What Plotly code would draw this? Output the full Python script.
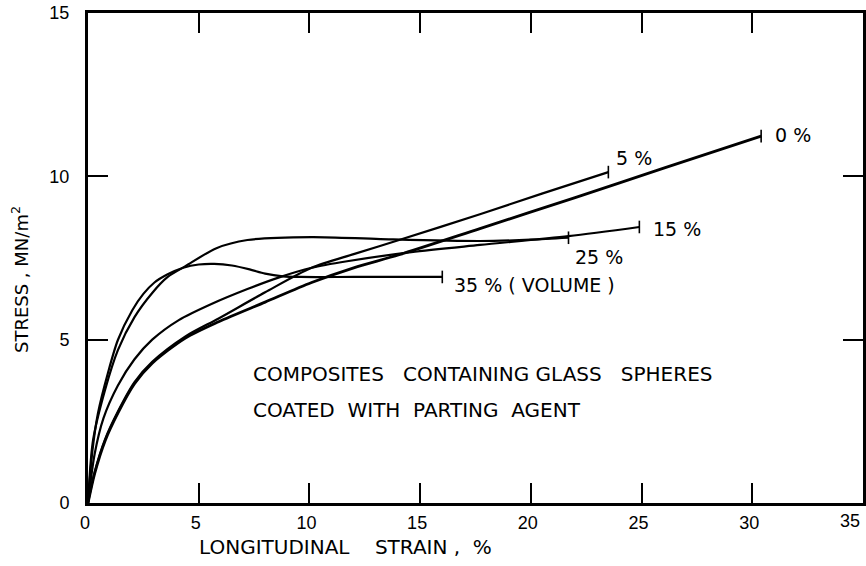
import plotly.graph_objects as go

# ---- data ----
strain_0 = [0, 0.3, 0.77, 1.35, 2.1, 2.9, 4.4, 5.9, 8.0, 10.1, 12.0, 14.05, 17.7, 22.0, 26.0, 30.4]
stress_0 = [0, 0.9, 1.9, 2.75, 3.65, 4.28, 5.05, 5.55, 6.15, 6.75, 7.2, 7.6, 8.4, 9.35, 10.25, 11.23]

strain_5 = [0, 0.3, 0.77, 1.35, 2.1, 2.9, 4.4, 5.9, 8.0, 10.1, 12.0, 14.05, 17.7, 20.5, 23.5]
stress_5 = [0, 0.95, 1.95, 2.8, 3.7, 4.32, 5.1, 5.65, 6.45, 7.2, 7.62, 8.05, 8.84, 9.47, 10.13]

strain_15 = [0, 0.3, 0.7, 1.35, 2.1, 2.9, 4.1, 5.6, 7.2, 8.6, 10.1, 11.7, 14.6, 17.7, 21.7, 24.9]
stress_15 = [0, 1.5, 2.6, 3.6, 4.4, 5.0, 5.6, 6.1, 6.55, 6.9, 7.2, 7.4, 7.68, 7.9, 8.17, 8.45]

strain_25 = [0, 0.23, 0.77, 1.35, 2.1, 2.9, 3.6, 4.4, 5.8, 7.2, 10.1, 13.2, 17.7, 20.0, 21.7]
stress_25 = [0, 1.93, 3.46, 4.68, 5.69, 6.43, 6.92, 7.25, 7.8, 8.05, 8.14, 8.08, 8.02, 8.06, 8.12]

strain_35 = [0, 0.2, 0.45, 0.9, 1.35, 2.0, 2.5, 3.0, 3.6, 4.3, 5.0, 5.7, 6.5, 7.3, 8.0, 8.8, 9.6, 12.0, 16.0]
stress_35 = [0, 1.6, 2.75, 3.98, 4.99, 5.9, 6.4, 6.75, 7.0, 7.2, 7.3, 7.32, 7.27, 7.15, 7.02, 6.94, 6.92, 6.92, 6.92]

series_labels = ["0 %", "5 %", "15 %", "25 %", "35 % ( VOLUME )"]
x_ticks = [0, 5, 10, 15, 20, 25, 30, 35]
y_ticks = [0, 5, 10, 15]

NB = "\u00a0"
note_line1 = f"COMPOSITES{NB*3}CONTAINING GLASS{NB*3}SPHERES"
note_line2 = f"COATED{NB*2}WITH{NB*2}PARTING{NB*2}AGENT"
x_title = f"LONGITUDINAL{NB*4}STRAIN{NB}, {NB}%"
y_title = "STRESS , MN/m<sup>2</sup>"

# (line width, label x-shift px, label y-shift px)
styles = [(2.8, 12, 1), (2.2, 6, 14), (2.2, 12, -2), (2.2, 4, -19), (2.2, 10, -8)]
curves = [(strain_0, stress_0), (strain_5, stress_5), (strain_15, stress_15),
          (strain_25, stress_25), (strain_35, stress_35)]

FONT = "Liberation Sans"
TFONT = "DejaVu Sans"
fig = go.Figure()
annotations = []
for (xs, ys), (lw, xsh, ysh), lab in zip(curves, styles, series_labels):
    fig.add_trace(go.Scatter(x=xs, y=ys, mode="lines",
                             line=dict(color="black", width=lw, shape="spline", smoothing=0.8),
                             showlegend=False, hoverinfo="skip"))
    fig.add_trace(go.Scatter(x=[xs[-1]], y=[ys[-1]], mode="markers",
                             marker=dict(symbol="line-ns-open", size=9, color="black",
                                         line=dict(color="black", width=1.6)),
                             showlegend=False, hoverinfo="skip"))
    annotations.append(dict(x=xs[-1], y=ys[-1], xref="x", yref="y", text=lab,
                            showarrow=False, xanchor="left", yanchor="middle",
                            xshift=xsh, yshift=ysh,
                            font=dict(family=TFONT, size=19, color="black")))

W, H = 866, 566
L, R, T, B = 88, 3, 13, 63
PW, PH = W - L - R, H - T - B


def px_x(px):
    return (px - L) / PW


def px_y(py):
    return (H - B - py) / PH


annotations += [
    # last x tick label sits flush against the right frame edge, as in the reference
    dict(x=x_ticks[-1], y=0, xref="x", yref="paper", text=str(x_ticks[-1]),
         showarrow=False, xanchor="right", yanchor="top", xshift=-1, yshift=-6,
         font=dict(family=FONT, size=18, color="black")),
    dict(x=px_x(251), y=px_y(374), xref="paper", yref="paper", text=note_line1,
         showarrow=False, xanchor="left", yanchor="middle",
         font=dict(family=TFONT, size=20, color="black")),
    dict(x=px_x(251), y=px_y(410), xref="paper", yref="paper", text=note_line2,
         showarrow=False, xanchor="left", yanchor="middle",
         font=dict(family=TFONT, size=20, color="black")),
    dict(x=px_x(197), y=px_y(547), xref="paper", yref="paper", text=x_title,
         showarrow=False, xanchor="left", yanchor="middle",
         font=dict(family=TFONT, size=20, color="black")),
    dict(x=px_x(20), y=px_y(280), xref="paper", yref="paper", text=y_title,
         showarrow=False, textangle=-90, xanchor="center", yanchor="middle",
         font=dict(family=TFONT, size=18, color="black")),
]

axis_common = dict(showgrid=False, zeroline=False, showline=True, linecolor="black",
                   linewidth=3, mirror="ticks", ticks="inside", ticklen=20,
                   tickwidth=1.5, tickcolor="black", automargin=False,
                   ticklabeloverflow="allow",
                   tickfont=dict(family=FONT, size=18, color="black"))

fig.update_layout(
    width=W, height=H,
    margin=dict(l=L, r=R, t=T, b=B),
    paper_bgcolor="white", plot_bgcolor="white",
    xaxis=dict(range=[x_ticks[0], x_ticks[-1]], tickvals=x_ticks[:-1],
               ticktext=[str(v) for v in x_ticks[:-1]],
               ticklabelstandoff=1, ticklabelshift=-3, **axis_common),
    yaxis=dict(range=[y_ticks[0], y_ticks[-1]], tickvals=y_ticks,
               ticktext=[str(v) for v in y_ticks],
               ticklabelstandoff=12, **axis_common),
    annotations=annotations,
)

fig.write_html("out.html", config={"displayModeBar": False},
               post_script="document.body.style.margin='0';document.body.style.overflow='hidden';")
